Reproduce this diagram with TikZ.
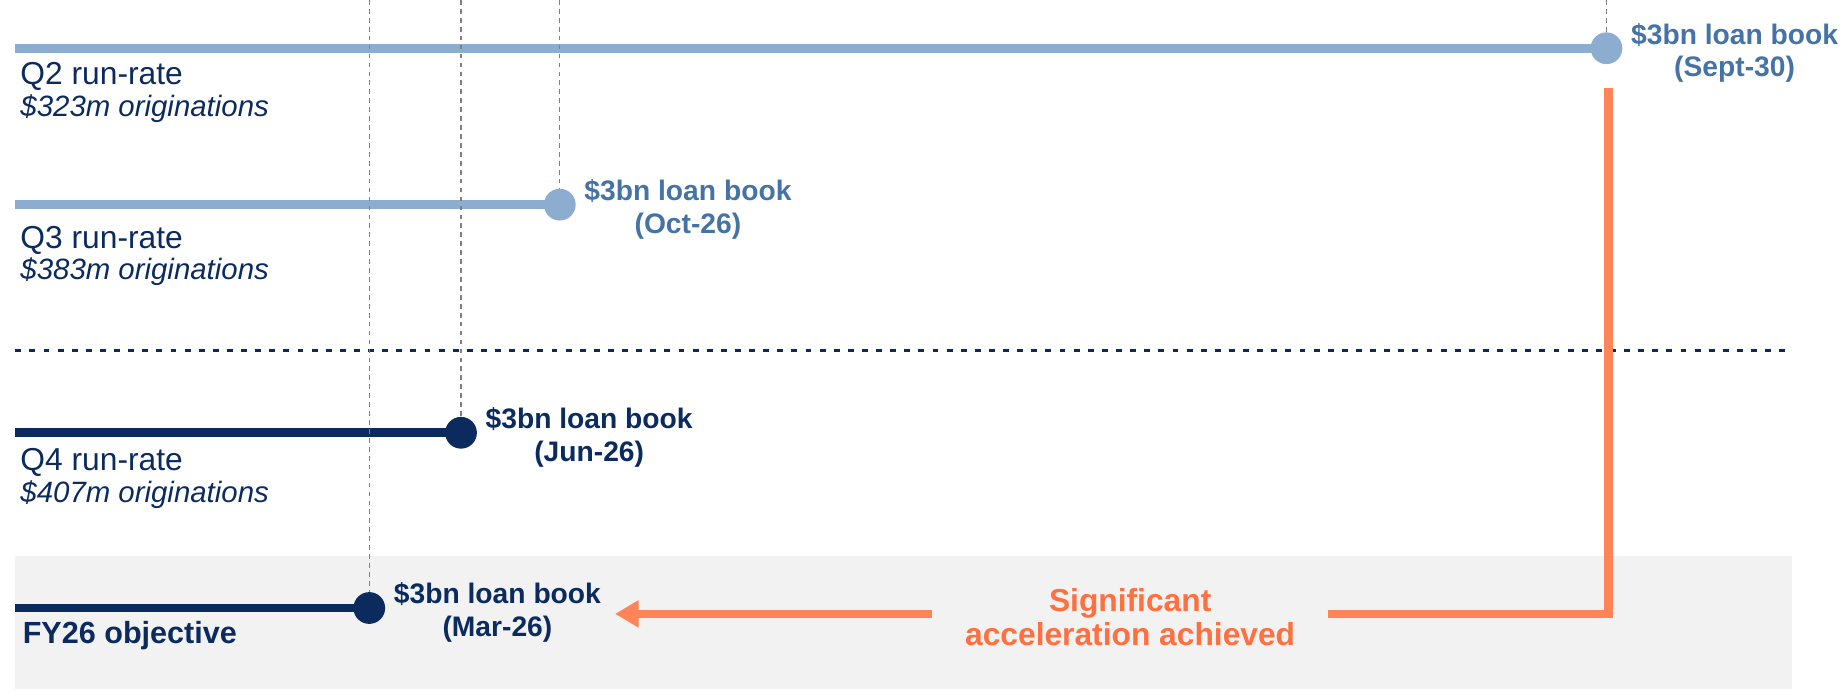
\documentclass[tikz,border=0pt]{standalone}
\usepackage{fontspec}
\setmainfont{Liberation Sans}
\usetikzlibrary{arrows.meta}
\definecolor{paleblue}{HTML}{8CADD0}
\definecolor{midblue}{HTML}{4573A6}
\definecolor{navy}{HTML}{0B2B5F}
\definecolor{coral}{HTML}{FF8457}
\definecolor{coraltext}{HTML}{FF7040}
\definecolor{panel}{HTML}{F2F2F2}
\begin{document}
\begin{tikzpicture}[x=0.5pt,y=-0.5pt,
	dot/.style={circle,fill=#1,inner sep=0pt,minimum size=13.5pt},
	bar/.style={line width=3.7pt,#1},
	guide/.style={gray,line width=0.5pt,dash pattern=on 2pt off 1.8pt},
	book/.style={font=\bfseries\fontsize{12}{14}\selectfont,align=center,yshift=-2pt},
	rate/.style={navy,inner sep=0pt,anchor=base west,font=\fontsize{13.5}{16}\selectfont},
	orig/.style={navy,inner sep=0pt,anchor=base west,font=\itshape\fontsize{12.5}{15}\selectfont},
	flow/.style={coral,line width=3.7pt}]
	\useasboundingbox (0,0) rectangle (1568,595);
	\fill[panel](13,473) rectangle (1524,586);
	\draw[navy,line width=0.9pt,dash pattern=on 2.5pt off 3.5pt](13,298)--(1524,298);
		\coordinate (q2s) at (13,41);
		\coordinate (q3s) at (13,174);
		\coordinate (q4s) at (13,368);
		\coordinate (fys) at (13,517);
		\coordinate (sep) at (1366,41);
		\coordinate (oct) at (476,174);
		\coordinate (jun) at (392,368);
		\coordinate (mar) at (314,517);
		\coordinate (g1) at (314,0);
		\coordinate (g2) at (392,0);
		\coordinate (g3) at (476,0);
		\coordinate (g4) at (1366,0);
		\draw[bar=paleblue](q2s)--(sep);
		\draw[bar=paleblue](q3s)--(oct);
		\draw[bar=navy](q4s)--(jun);
		\draw[bar=navy](fys)--(mar);
		\draw[guide](g1)--(mar);
		\draw[guide](g2)--(jun);
		\draw[guide](g3)--(oct);
		\draw[guide](g4)--(sep);
		\node[dot=paleblue,label={[book,text=midblue]right:{\$3bn loan book\\(Sept-30)}}](sepdot) at (sep){};
		\node[dot=paleblue,label={[book,text=midblue]right:{\$3bn loan book\\(Oct-26)}}](octdot) at (oct){};
		\node[dot=navy,label={[book,text=navy]right:{\$3bn loan book\\(Jun-26)}}](jundot) at (jun){};
		\node[dot=navy,label={[book,text=navy]right:{\$3bn loan book\\(Mar-26)}}](mardot) at (mar){};
		\node[rate](q2rate) at (17,72){Q2 run-rate};
		\node[orig](q2orig) at (17,99){\$323m originations};
		\node[rate](q3rate) at (17,211){Q3 run-rate};
		\node[orig](q3orig) at (17,238){\$383m originations};
		\node[rate](q4rate) at (17,400){Q4 run-rate};
		\node[orig](q4orig) at (17,427){\$407m originations};
		\node[rate,font=\bfseries\fontsize{13}{15}\selectfont](fyobj) at (19,547){FY26 objective};
		\node[text=coraltext,font=\bfseries\fontsize{13.5}{14.5}\selectfont,align=center,minimum width=168pt,inner sep=0pt](accel) at (961,525){Significant\\acceleration achieved};
		\coordinate (tip) at (523,522);
		\coordinate (riser) at (1368,75);
		\draw[flow,-{Triangle[length=10pt,width=11pt]}](accel.west |- tip)--(tip);
		\draw[flow](accel.east |- tip)-|(riser);
\end{tikzpicture}
\end{document}
